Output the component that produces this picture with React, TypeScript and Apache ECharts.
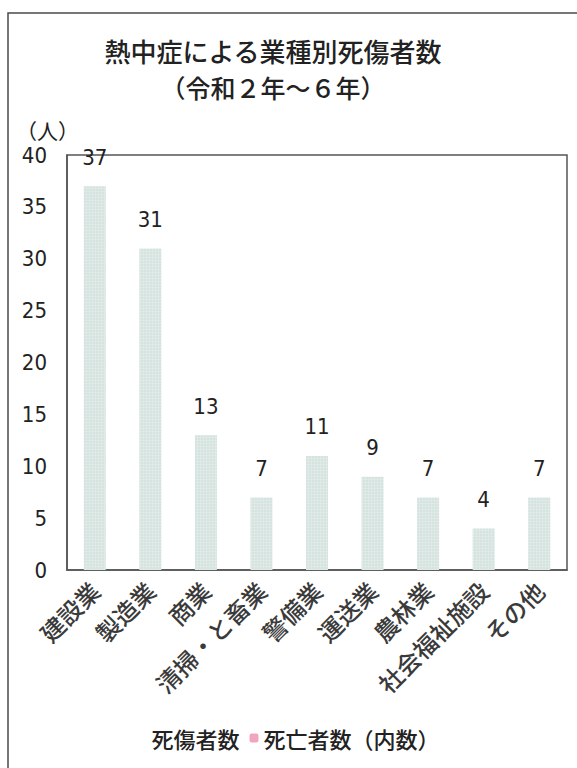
import React, { useEffect, useRef } from "react";
import * as echarts from "echarts";

const titleLines = ["熱中症による業種別死傷者数", "（令和２年～６年）"];
const unitLabel = "（人）";
const categories = ["建設業", "製造業", "商業", "清掃・と畜業", "警備業", "運送業", "農林業", "社会福祉施設", "その他"];
const casualties = [37, 31, 13, 7, 11, 9, 7, 4, 7];
const deaths = [0, 0, 0, 0, 0, 0, 0, 0, 0];
const seriesNames = ["死傷者数", "死亡者数（内数）"];

const CJK = '"Noto Sans CJK JP", "Noto Sans", sans-serif';
const NUM = '"DejaVu Sans Condensed", "Liberation Sans Narrow", "Liberation Sans", sans-serif';

export default function App() {
  const ref = useRef<HTMLDivElement>(null);
  useEffect(() => {
    if (!ref.current) return;
    const chart = echarts.init(ref.current, null, { renderer: "svg" });
    chart.setOption({
      animation: false,
      backgroundColor: "#ffffff",
      graphic: [
        {
          type: "rect",
          shape: { x: 8, y: 13, width: 620, height: 800 },
          style: { fill: "none", stroke: "#4a4a4a", lineWidth: 1.5 },
          z: -1,
        },
        {
          type: "text",
          x: 273,
          y: 37,
          style: { text: titleLines[0], font: `500 26px ${CJK}`, fill: "#222", textAlign: "center" },
        },
        {
          type: "text",
          x: 273,
          y: 74,
          style: { text: titleLines[1], font: `500 25px ${CJK}`, fill: "#222", textAlign: "center" },
        },
        {
          type: "text",
          left: 16,
          top: 119,
          style: { text: unitLabel, font: `400 21px ${CJK}`, fill: "#222" },
        },
      ],
      legend: {
        top: 722,
        left: "center",
        itemWidth: 9,
        itemHeight: 9,
        itemGap: 10,
        data: [
          { name: seriesNames[0], itemStyle: { color: "#ffffff", opacity: 0 } },
          { name: seriesNames[1], itemStyle: { color: "#f2a6bd" } },
        ],
        textStyle: { fontFamily: CJK, fontSize: 22, fontWeight: 500, color: "#222" },
      },
      grid: {
        left: 67,
        right: 10,
        top: 155,
        bottom: 198,
        show: true,
        borderColor: "#555",
        borderWidth: 1.5,
        containLabel: false,
      },
      xAxis: {
        type: "category",
        data: categories,
        axisLine: { show: true, lineStyle: { color: "#555", width: 1.5 } },
        axisTick: { show: false },
        axisLabel: {
          rotate: 45,
          margin: 16,
          interval: 0,
          fontFamily: CJK,
          fontSize: 24,
          fontWeight: 500,
          color: "#3a3a3a",
        },
      },
      yAxis: {
        type: "value",
        min: 0,
        max: 40,
        interval: 5,
        splitLine: { show: false },
        axisLine: { show: true, lineStyle: { color: "#555", width: 1.5 } },
        axisTick: { show: false },
        axisLabel: { fontFamily: NUM, fontSize: 22, color: "#222", margin: 20 },
      },
      series: [
        {
          name: seriesNames[0],
          type: "bar",
          data: casualties,
          barWidth: 22,
          barGap: "-100%",
          itemStyle: {
            color: "#dfeae7",
            decal: {
              symbol: "circle",
              symbolSize: 0.7,
              color: "#c3d8d3",
              dashArrayX: [[2, 1]],
              dashArrayY: [2, 1],
              rotation: 0,
            },
          },
          label: {
            show: true,
            position: "top",
            distance: 18,
            fontFamily: NUM,
            fontSize: 22,
            color: "#222",
          },
        },
        {
          name: seriesNames[1],
          type: "bar",
          data: deaths,
          barWidth: 22,
          itemStyle: { color: "#f2a6bd" },
        },
      ],
    });
    return () => chart.dispose();
  }, []);
  return (
    <div
      ref={ref}
      style={{ position: "absolute", left: 0, top: 0, width: 577, height: 768 }}
    />
  );
}
